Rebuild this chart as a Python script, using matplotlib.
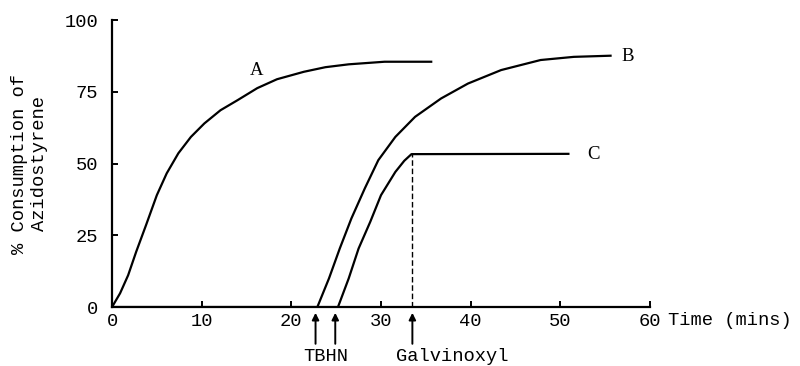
import matplotlib.pyplot as plt

# curve A
a_t = [0, 0.9, 1.8, 2.7, 3.8, 5.0, 6.1, 7.4, 8.8, 10.3, 12.1, 14.0, 16.2, 18.4,
       21.4, 23.8, 26.4, 30.4, 35.6]
a_y = [0, 4.8, 11.1, 19.3, 28.6, 39.0, 46.6, 53.6, 59.3, 64.0, 68.6, 72.1, 76.3,
       79.4, 82.0, 83.6, 84.6, 85.5, 85.5]
# curve B
b_t = [0, 22.9, 24.2, 25.4, 26.7, 28.2, 29.7, 31.6, 33.8, 36.7, 39.7, 43.4,
       47.8, 51.5, 55.6]
b_y = [0, 0, 10.0, 20.4, 30.9, 41.4, 51.2, 59.3, 66.3, 72.7, 77.9, 82.6,
       86.1, 87.2, 87.6]
# curve C
c_t = [25.2, 26.4, 27.5, 28.8, 30.0, 31.6, 32.6, 33.4, 50.9]
c_y = [0, 10.0, 20.4, 29.7, 39.0, 47.1, 51.0, 53.3, 53.4]

galv_t = 33.5
arrow_t = [22.7, 24.9, 33.5]
xticks = [0, 10, 20, 30, 40, 50, 60]
yticks = [0, 25, 50, 75, 100]

mono = "Liberation Mono"
fs = 13.5

fig = plt.figure(figsize=(8, 3.66), dpi=100)
ax = fig.add_axes([0.14, 0.161, 0.6725, 0.784])

ax.plot(a_t, a_y, c='black', lw=1.6, solid_joinstyle='round')
ax.plot(b_t, b_y, c='black', lw=1.6, solid_joinstyle='round')
ax.plot([0] + c_t, [0] + c_y, c='black', lw=1.6, solid_joinstyle='round')
ax.plot([galv_t, galv_t], [0, c_y[-2]], c='black', lw=1.0, ls=(0, (4, 2)))

ax.text(16.1, 82.6, "A", fontsize=fs, family="Liberation Serif", ha='center', va='center')
ax.text(57.5, 87.4, "B", fontsize=fs, family="Liberation Serif", ha='center', va='center',
        clip_on=False)
ax.text(53.7, 53.3, "C", fontsize=fs, family="Liberation Serif", ha='center', va='center')

for t in arrow_t:
    ax.annotate("", xy=(t, -2.0), xytext=(t, -12.8), annotation_clip=False,
                arrowprops=dict(arrowstyle='-|>', color='black', lw=1.4,
                                mutation_scale=10, shrinkA=0, shrinkB=0))
ax.text(23.8, -17.2, "TBHN", fontsize=fs, family=mono, ha='center', va='center')
ax.text(38.0, -17.2, "Galvinoxyl", fontsize=fs, family=mono, ha='center', va='center')

ax.set_xlim(0, 60)
ax.set_ylim(0, 100)
ax.spines['top'].set_visible(False)
ax.spines['right'].set_visible(False)
ax.spines['left'].set_linewidth(1.6)
ax.spines['bottom'].set_linewidth(1.6)
ax.set_xticks(xticks)
ax.set_xticklabels([str(v) for v in xticks], family=mono, fontsize=fs)
ax.set_yticks(yticks)
ax.set_yticklabels([str(v) for v in yticks], family=mono, fontsize=fs)
ax.tick_params(direction='in', length=4, width=1.4, pad=4)
ax.tick_params(axis='y', pad=10)

ax.text(62.0, -4.6, "Time (mins)", fontsize=fs, family=mono, ha='left', va='center',
        clip_on=False)
ax.set_ylabel("% Consumption of\nAzidostyrene", family=mono, fontsize=fs, labelpad=12)

fig.savefig("out.png")
